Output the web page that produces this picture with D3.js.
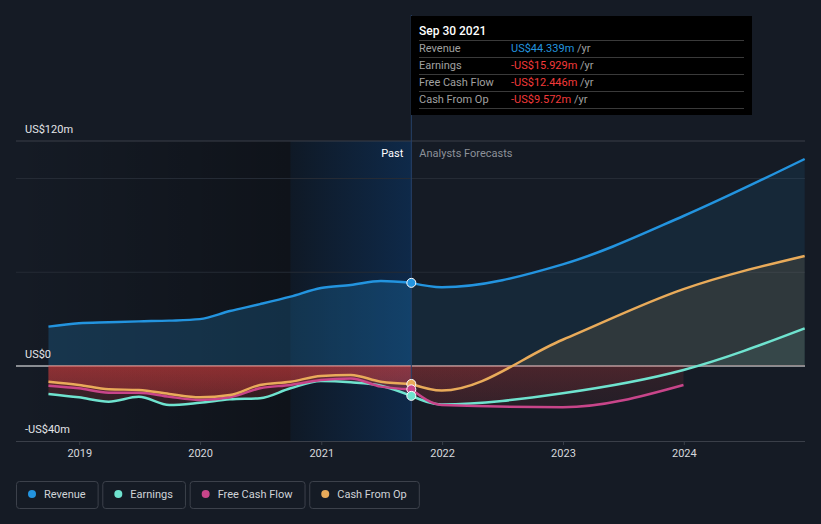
<!DOCTYPE html>
<html>
<head>
<meta charset="utf-8">
<script src="https://cdn.jsdelivr.net/npm/d3@7"></script>
<style>
  html, body { margin: 0; padding: 0; background: #151b25; }
  svg { display: block; font-family: Roboto, "Noto Sans", sans-serif; }
</style>
</head>
<body>
<svg id="chart" width="821" height="524"></svg>
<script>
// ---------- data ----------
const pastDates = ["2018-09-30","2018-12-31","2019-03-31","2019-06-30","2019-09-30","2019-12-31","2020-03-31","2020-06-30","2020-09-30","2020-12-31","2021-03-31","2021-06-30","2021-09-30"];
const forecastDates = ["2021-09-30","2021-12-31","2022-12-31","2023-12-31","2024-12-31"];

const revenuePast   = [21.0, 22.8, 23.3, 23.8, 24.2, 25.0, 29.3, 33.0, 37.0, 41.6, 43.2, 45.3, 44.339];
const earningsPast  = [-14.9, -16.7, -19.0, -16.4, -20.8, -19.6, -17.8, -17.2, -11.9, -8.0, -8.7, -10.5, -15.929];
const fcfPast       = [-10.5, -11.9, -14.2, -14.2, -16.4, -18.1, -16.7, -11.9, -10.1, -7.5, -6.6, -11.0, -12.446];
const cfoPast       = [-8.4, -10.1, -12.4, -12.8, -14.9, -16.7, -15.5, -10.1, -8.4, -5.3, -4.8, -8.4, -9.572];

const revenueForecast  = [44.339, 42.0, 54.2, 80.0, 110.4];
const earningsForecast = [-15.929, -20.5, -14.5, -2.1, 20.1];
const fcfForecast      = [-12.446, -20.8, -22.0, -10.1];
const cfoForecast      = [-9.572, -13.1, 14.0, 41.0, 58.7];

const seriesNames  = ["Revenue", "Earnings", "Free Cash Flow", "Cash From Op"];
const seriesColors = ["#2394df", "#6fe3cf", "#c8458a", "#e9ab5a"];

const yTickValues = [120, 0, -40];
const yTickLabels = ["US$120m", "US$0", "-US$40m"];
const gridValues  = [50, 100];
const xTickYears  = ["2019", "2020", "2021", "2022", "2023", "2024"];

const tooltipTitle  = "Sep 30 2021";
const tooltipValues = ["US$44.339m", "-US$15.929m", "-US$12.446m", "-US$9.572m"];

// ---------- setup ----------
const parse = d3.utcParse("%Y-%m-%d");
const svg = d3.select("#chart");
const W = 821, H = 524;
const pL = 16, pR = 805, pT = 141, pB = 441;

const x = d3.scaleUtc().domain([parse("2018-06-24"), parse("2025-01-01")]).range([pL, pR]);
const y = d3.scaleLinear().domain([-40, 120]).range([pB, pT]);

const divDate = parse("2021-09-30");
const bandStart = parse("2020-09-30");
const xDiv = x(divDate);

const pastSeries = [revenuePast, earningsPast, fcfPast, cfoPast].map(vals => vals.map((v, i) => ({d: parse(pastDates[i]), v})));
const foreSeries = [revenueForecast, earningsForecast, fcfForecast, cfoForecast].map(vals => vals.map((v, i) => ({d: parse(forecastDates[i]), v})));

const defs = svg.append("defs");

// background
svg.append("rect").attr("width", W).attr("height", H).attr("fill", "#151b25");

// darker past zone gradient
const gDark = defs.append("linearGradient").attr("id", "gDark").attr("x1", 0).attr("x2", 1).attr("y1", 0).attr("y2", 0);
gDark.append("stop").attr("offset", 0).attr("stop-color", "#000").attr("stop-opacity", 0);
gDark.append("stop").attr("offset", 1).attr("stop-color", "#000").attr("stop-opacity", 0.3);
svg.append("rect").attr("x", pL).attr("y", pT).attr("width", x(bandStart) - pL).attr("height", pB - pT).attr("fill", "url(#gDark)");

// last-year highlight band
svg.append("rect").attr("x", x(bandStart)).attr("y", pT).attr("width", xDiv - x(bandStart)).attr("height", pB - pT).attr("fill", "#000").attr("opacity", 0.25);
const gBand = defs.append("linearGradient").attr("id", "gBand").attr("x1", 0).attr("x2", 1).attr("y1", 0).attr("y2", 0);
gBand.append("stop").attr("offset", 0).attr("stop-color", "#0d5bb5").attr("stop-opacity", 0.07);
gBand.append("stop").attr("offset", 1).attr("stop-color", "#0d5bb5").attr("stop-opacity", 0.3);
svg.append("rect").attr("x", x(bandStart)).attr("y", pT).attr("width", xDiv - x(bandStart)).attr("height", pB - pT).attr("fill", "url(#gBand)");

// grid
svg.selectAll(".grid").data(gridValues).join("line")
  .attr("x1", pL).attr("x2", pR).attr("y1", d => y(d)).attr("y2", d => y(d))
  .attr("stroke", "#252b35").attr("stroke-width", 1);
svg.append("line").attr("x1", pL).attr("x2", pR).attr("y1", y(120)).attr("y2", y(120)).attr("stroke", "#3a3f49");

// x axis
const xAxis = d3.axisBottom(x)
  .tickValues(xTickYears.map(s => parse(s + "-01-01")))
  .tickFormat(d3.utcFormat("%Y"))
  .tickSize(4).tickPadding(4);
const gx = svg.append("g").attr("transform", `translate(0,${pB})`).call(xAxis);
gx.select(".domain").attr("stroke", "#3a3f49").attr("d", `M${pL},0.5H${pR}`);
gx.selectAll(".tick line").attr("stroke", "#3a3f49");
gx.selectAll(".tick text").attr("fill", "#d6d8dc").attr("font-size", 11).attr("font-family", "Roboto, sans-serif");

// zero line
svg.append("line").attr("x1", pL).attr("x2", pR).attr("y1", y(0)).attr("y2", y(0)).attr("stroke", "#ffffff").attr("stroke-width", 1);

// clips
defs.append("clipPath").attr("id", "clipPos").append("rect").attr("x", 0).attr("y", 0).attr("width", W).attr("height", y(0));
defs.append("clipPath").attr("id", "clipNeg").append("rect").attr("x", 0).attr("y", y(0) - 0.5).attr("width", W).attr("height", H);

function redGrad(id, a0, a1) {
  const g = defs.append("linearGradient").attr("id", id).attr("gradientUnits", "userSpaceOnUse")
    .attr("x1", 0).attr("x2", 0).attr("y1", y(0)).attr("y2", pB);
  g.append("stop").attr("offset", 0).attr("stop-color", "#e0403f").attr("stop-opacity", a0);
  g.append("stop").attr("offset", 1).attr("stop-color", "#e0403f").attr("stop-opacity", a1);
}
redGrad("redPast", 0.26, 0.05);
redGrad("redFore", 0.14, 0.03);

const area = d3.area().x(p => x(p.d)).y0(y(0) - 0.5).y1(p => y(p.v)).curve(d3.curveMonotoneX);
const line = d3.line().x(p => x(p.d)).y(p => y(p.v)).curve(d3.curveMonotoneX);

const posOpPast = [0.22, 0.12, 0.12, 0.12];
const posOpFore = [0.11, 0.1, 0.1, 0.12];

// areas
[[pastSeries, "redPast", posOpPast], [foreSeries, "redFore", posOpFore]].forEach(([set, red, posOp]) => {
  set.forEach((pts, i) => {
    svg.append("path").attr("d", area(pts)).attr("clip-path", "url(#clipPos)")
      .attr("fill", seriesColors[i]).attr("fill-opacity", posOp[i]);
    svg.append("path").attr("d", area(pts)).attr("clip-path", "url(#clipNeg)")
      .attr("fill", `url(#${red})`);
  });
});

// lines
[pastSeries, foreSeries].forEach(set => {
  set.forEach((pts, i) => {
    svg.append("path").attr("d", line(pts)).attr("fill", "none")
      .attr("stroke", seriesColors[i]).attr("stroke-width", 2.5).attr("stroke-linejoin", "round");
  });
});

// divider line
svg.append("line").attr("x1", xDiv).attr("x2", xDiv).attr("y1", 15).attr("y2", pB).attr("stroke", "#26416a").attr("stroke-width", 1);

// dots at divider
const dotOrder = [0, 3, 2, 1];
dotOrder.forEach(i => {
  const p = pastSeries[i][pastSeries[i].length - 1];
  svg.append("circle").attr("cx", x(p.d)).attr("cy", y(p.v)).attr("r", 4.5)
    .attr("fill", seriesColors[i]).attr("stroke", "#ffffff").attr("stroke-width", 1);
});

// y labels
svg.selectAll(".ylab").data(yTickValues).join("text")
  .attr("x", 25).attr("y", d => y(d) - 8).attr("fill", "#e3e5e8").attr("font-size", 11)
  .text((d, i) => yTickLabels[i]);

// Past / Forecast labels
svg.append("text").attr("x", xDiv - 8).attr("y", 157).attr("text-anchor", "end").attr("fill", "#ffffff").attr("font-size", 11).text("Past");
svg.append("text").attr("x", xDiv + 8).attr("y", 157).attr("fill", "#8c9199").attr("font-size", 11).text("Analysts Forecasts");

// tooltip
const tt = svg.append("g");
tt.append("rect").attr("x", 411).attr("y", 16).attr("width", 341).attr("height", 99).attr("fill", "#000000");
tt.append("text").attr("x", 419).attr("y", 35).attr("fill", "#ffffff").attr("font-size", 12).attr("font-weight", 500).text(tooltipTitle);
const sepYs = [40, 57, 74, 91, 108];
sepYs.forEach(sy => tt.append("line").attr("x1", 419).attr("x2", 744).attr("y1", sy + 0.5).attr("y2", sy + 0.5).attr("stroke", "#3a3a3a"));
seriesNames.forEach((n, i) => {
  const ty = 52 + i * 17;
  tt.append("text").attr("x", 419).attr("y", ty).attr("fill", "#a0a0a0").attr("font-size", 11).text(n);
  const t = tt.append("text").attr("x", 511).attr("y", ty).attr("font-size", 11);
  t.append("tspan").attr("fill", i === 0 ? "#2394df" : "#f23a3a").text(tooltipValues[i]);
  t.append("tspan").attr("fill", "#a0a0a0").text(" /yr");
});

// legend
let lx = 16.5;
seriesNames.forEach((n, i) => {
  const g = svg.append("g");
  const txt = g.append("text").attr("x", lx + 27.5).attr("y", 498).attr("fill", "#d0d3d8").attr("font-size", 11).text(n);
  const tw = txt.node().getComputedTextLength();
  const bw = tw + 40;
  g.insert("rect", "text").attr("x", lx).attr("y", 481.5).attr("width", bw).attr("height", 27).attr("rx", 3)
    .attr("fill", "none").attr("stroke", "#3c414b").attr("stroke-width", 1);
  g.append("circle").attr("cx", lx + 15.5).attr("cy", 494).attr("r", 4).attr("fill", seriesColors[i]);
  lx += bw + 4.7;
});
</script>
</body>
</html>
